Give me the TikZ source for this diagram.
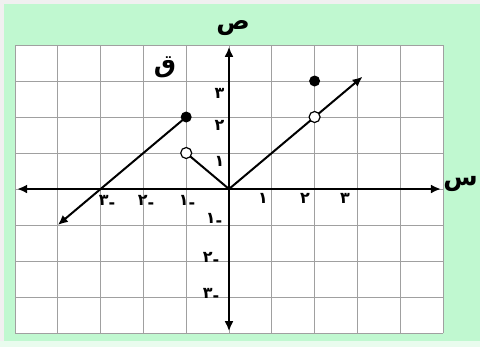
\documentclass[tikz,border=0pt]{standalone}
\usepackage{fontspec}
\newfontfamily\arabicfont[Script=Arabic]{DejaVu Sans}
\usetikzlibrary{arrows.meta}
\definecolor{bgmint}{RGB}{192,248,208}
\definecolor{gridgray}{RGB}{160,160,160}
\begin{document}
\begin{tikzpicture}[x=1bp,y=-1bp,
  lbl/.style={font=\arabicfont\bfseries\fontsize{16}{16}\selectfont, inner sep=0pt},
  letter/.style={font=\arabicfont\bfseries\fontsize{25}{25}\selectfont, inner sep=0pt},
  axisline/.style={line width=2bp},
  curve/.style={line width=2bp},
  fdot/.style={circle, fill=black, minimum size=11bp, inner sep=0pt},
  odot/.style={circle, draw=black, fill=white, line width=1.2bp, minimum size=11bp, inner sep=0pt}]
\useasboundingbox (0,0) rectangle (480,347);
\fill[gray!12] (0,0) rectangle (480,347);
\fill[bgmint] (4,4) rectangle (480,341);
\fill[bgmint!35!white] (0,341) rectangle (480,347);
\begin{scope}[shift={(229bp,-189bp)}, x=42.8bp, y=36bp]
  \fill[white] (-5,-4) rectangle (5,4);
  \foreach \i in {-5,...,5} \draw[gridgray, line width=0.8bp] (\i,-4) -- (\i,4);
  \foreach \j in {-4,...,4} \draw[gridgray, line width=0.8bp] (-5,\j) -- (5,\j);
  \coordinate (xl) at (-4.95,0);
  \coordinate (xr) at (4.95,0);
  \coordinate (yb) at (0,-3.95);
  \coordinate (yt) at (0,3.95);
  \coordinate (o) at (0,0);
  \draw[axisline, {Latex[length=10bp,width=9bp]}-{Latex[length=10bp,width=9bp]}] (xl) -- (xr);
  \draw[axisline, {Latex[length=10bp,width=9bp]}-{Latex[length=10bp,width=9bp]}] (yb) -- (yt);
  % branch y = x + 3
  \coordinate (t1) at (-4,-1);
  \node[fdot] (p1) at (-1,2) {};
  \draw[curve, -{Latex[length=10bp,width=9bp]}] (p1.center) -- (t1);
  % branch y = -x
  \draw[curve] (o) -- (-1,1) coordinate (q2);
  \node[odot] (p2) at (q2) {};
  % branch y = x
  \coordinate (t3) at (3.12,3.12);
  \draw[curve, -{Latex[length=10bp,width=9bp]}] (o) -- (t3);
  \node[odot] (p3) at (2,2) {};
  \node[fdot] (p4) at (2,3) {};
\end{scope}
% axis letters
\node[letter] (ys) at (233,28) {ص};
\node[letter, anchor=east] (xs) at (478,184) {س};
\node[letter] (fq) at (165,67) {ق};
% y tick labels
\node[lbl] (y3) at (219.5,93) {٣};
\node[lbl] (y2) at (219.5,125) {٢};
\node[lbl] (y1) at (219.5,161) {١};
\node[lbl] (ym1) at (214,220) {١\raisebox{-0.35ex}{-}};
\node[lbl] (ym2) at (211,259) {٢\raisebox{-0.35ex}{-}};
\node[lbl] (ym3) at (211,295) {٣\raisebox{-0.35ex}{-}};
% x tick labels
\node[lbl] (xm3) at (107,202) {٣\raisebox{-0.35ex}{-}};
\node[lbl] (xm2) at (146,202) {٢\raisebox{-0.35ex}{-}};
\node[lbl] (xm1) at (187,202) {١\raisebox{-0.35ex}{-}};
\node[lbl] (x1) at (263,198) {١};
\node[lbl] (x2) at (305,198) {٢};
\node[lbl] (x3) at (345,198) {٣};
\end{tikzpicture}
\end{document}
